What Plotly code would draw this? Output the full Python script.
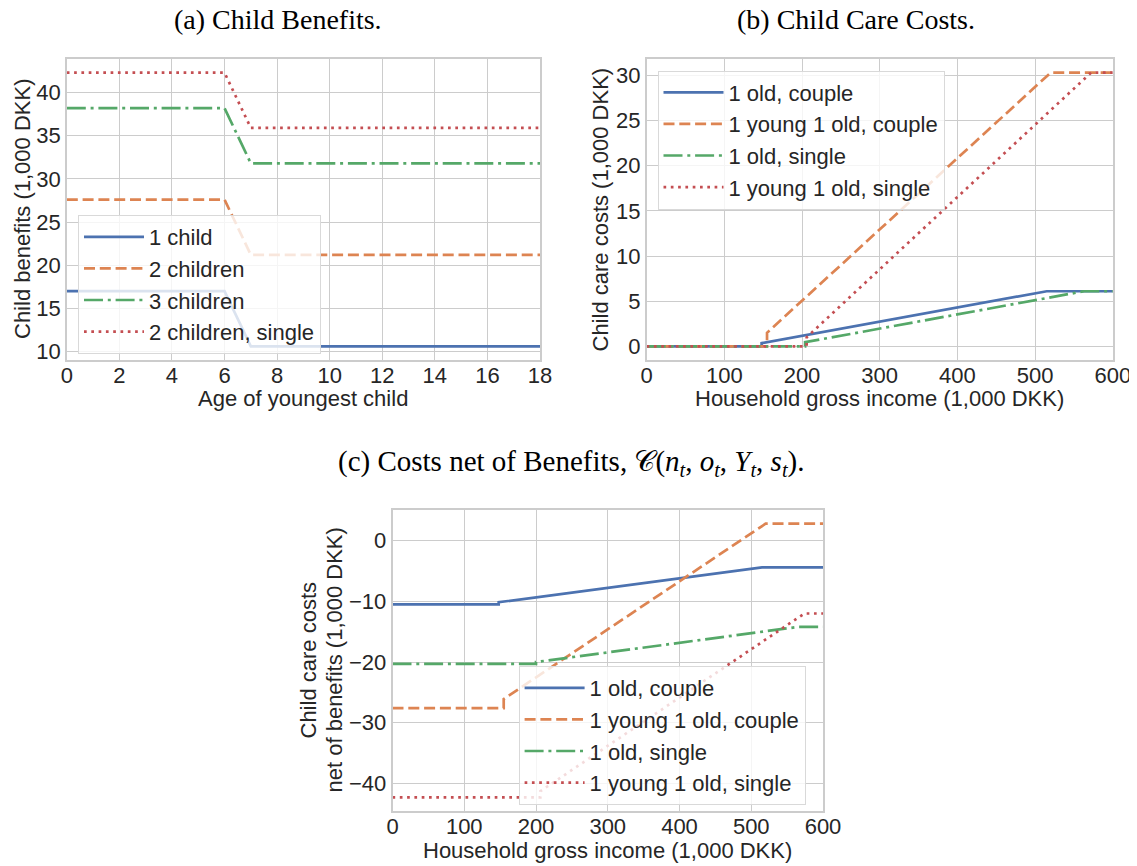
import plotly.graph_objects as go

# page offsets (the page body has an 8px margin)
OFF = 8
W, H = 1137 - OFF, 866 - OFF

# ---------------- Data ----------------
# (a) Child benefits by age of youngest child
ages = list(range(0, 19))
ben_1child = [17.0] * 7 + [10.6] * 12
ben_2children = [27.6] * 7 + [21.2] * 12
ben_3children = [38.2] * 7 + [31.8] * 12
ben_2children_single = [42.3] * 7 + [35.9] * 12

# (b) Child care costs vs household gross income (breakpoints)
cc_1old_couple_x = [0, 148, 148, 515, 600]
cc_1old_couple_y = [0.0, 0.0, 0.35, 6.1, 6.1]
cc_1y1o_couple_x = [0, 155, 155, 520, 600]
cc_1y1o_couple_y = [0.0, 0.0, 1.5, 30.3, 30.3]
cc_1old_single_x = [0, 204, 204, 563, 600]
cc_1old_single_y = [0.0, 0.0, 0.45, 6.1, 6.1]
cc_1y1o_single_x = [0, 206, 206, 572, 600]
cc_1y1o_single_y = [0.0, 0.0, 1.0, 30.3, 30.3]

# (c) Costs net of benefits
net_1old_couple_x = [0, 148, 148, 515, 600]
net_1old_couple_y = [-10.5, -10.5, -10.15, -4.4, -4.4]
net_1y1o_couple_x = [0, 155, 155, 520, 600]
net_1y1o_couple_y = [-27.6, -27.6, -26.1, 2.8, 2.8]
net_1old_single_x = [0, 200, 200, 566, 600]
net_1old_single_y = [-20.3, -20.3, -20.0, -14.2, -14.2]
net_1y1o_single_x = [0, 206, 206, 574, 600]
net_1y1o_single_y = [-42.3, -42.3, -41.3, -12.0, -12.0]

names_a = ["1 child", "2 children", "3 children", "2 children, single"]
names_bc = ["1 old, couple", "1 young 1 old, couple", "1 old, single", "1 young 1 old, single"]
xticks_a = list(range(0, 19, 2))
xticks_bc = list(range(0, 601, 100))
yticks_a = [10, 15, 20, 25, 30, 35, 40]
yticks_b = [0, 5, 10, 15, 20, 25, 30]
yticks_c = [-40, -30, -20, -10, 0]

# ---------------- Style ----------------
colors = ["#4C72B0", "#DD8452", "#55A868", "#C44E52"]
LW = 2.7
dashes = ["solid", "11px,4.8px", "19px,4.8px,3px,4.8px", "2.7px,4.6px"]
SANS = "Liberation Sans, Arial, sans-serif"
SERIF = "Liberation Serif, Times New Roman, serif"
TXT = "#262626"
GRID = "#cccccc"
FS = 22

fig = go.Figure()

def add(xs, ys, name, i, xa, ya, leg):
    fig.add_trace(go.Scatter(
        x=xs, y=ys, mode="lines", name=name,
        line=dict(color=colors[i], width=LW, dash=dashes[i]),
        xaxis=xa, yaxis=ya, legend=leg, legendgroup=f"{leg}_{i}",
    ))

series_a = [ben_1child, ben_2children, ben_3children, ben_2children_single]
for i, ys in enumerate(series_a):
    add(ages, ys, names_a[i], i, "x", "y", "legend")

series_b = [(cc_1old_couple_x, cc_1old_couple_y), (cc_1y1o_couple_x, cc_1y1o_couple_y),
            (cc_1old_single_x, cc_1old_single_y), (cc_1y1o_single_x, cc_1y1o_single_y)]
for i, (xs, ys) in enumerate(series_b):
    add(xs, ys, names_bc[i], i, "x2", "y2", "legend2")

series_c = [(net_1old_couple_x, net_1old_couple_y), (net_1y1o_couple_x, net_1y1o_couple_y),
            (net_1old_single_x, net_1old_single_y), (net_1y1o_single_x, net_1y1o_single_y)]
for i, (xs, ys) in enumerate(series_c):
    add(xs, ys, names_bc[i], i, "x3", "y3", "legend3")

def px_x(p):
    return (p - OFF) / W

def px_y(p):
    return 1 - (p - OFF) / H

def axis(domain, rng, ticks, is_x):
    d = dict(
        domain=domain, range=rng, tickvals=ticks, showgrid=True, gridcolor=GRID, gridwidth=1.3,
        showline=True, mirror=True, linecolor=GRID, linewidth=1.5, zeroline=False,
        ticks="", tickfont=dict(family=SANS, size=FS, color=TXT), automargin=False,
    )
    if is_x:
        d["ticklabelstandoff"] = -5
    return d

# plot areas in pixels (left, right, top, bottom)
A = (66.8, 540, 59, 360)
B = (646.6, 1112.8, 59, 360)
C = (392.5, 823, 510, 811)

def xd(P):
    return [px_x(P[0]), px_x(P[1])]

def yd(P):
    return [px_y(P[3]), px_y(P[2])]

def rng(lo, hi):
    pad = 0.05 * (hi - lo)
    return [lo - pad, hi + pad]

fig.update_layout(
    width=W, height=H, margin=dict(l=0, r=0, t=0, b=0),
    paper_bgcolor="white", plot_bgcolor="white", showlegend=True,
    xaxis=dict(axis(xd(A), [0, 18], xticks_a, True), anchor="y"),
    yaxis=dict(axis(yd(A), rng(10.6, 42.3), yticks_a, False), anchor="x"),
    xaxis2=dict(axis(xd(B), [0, 600], xticks_bc, True), anchor="y2"),
    yaxis2=dict(axis(yd(B), rng(0, 30.3), yticks_b, False), anchor="x2"),
    xaxis3=dict(axis(xd(C), [0, 600], xticks_bc, True), anchor="y3"),
    yaxis3=dict(axis(yd(C), rng(-42.3, 2.8), yticks_c, False), anchor="x3"),
)

def legend(x, y):
    return dict(
        x=px_x(x), y=px_y(y), xanchor="left", yanchor="top",
        bgcolor="rgba(255,255,255,0.8)", bordercolor="#d9d9d9", borderwidth=1,
        font=dict(family=SANS, size=FS, color=TXT), tracegroupgap=0,
        itemwidth=60,
    )

fig.update_layout(
    legend=legend(78, 215),
    legend2=legend(657.5, 70.5),
    legend3=legend(518.6, 666),
)

ann = []
def text(x, y, s, size=FS, family=SANS, angle=0):
    ann.append(dict(x=px_x(x), y=px_y(y), xref="paper", yref="paper", text=s, showarrow=False,
                    xanchor="center", yanchor="middle", textangle=angle,
                    font=dict(family=family, size=size, color="black" if family == SERIF else TXT)))

# titles
text(277.5, 20, "(a) Child Benefits.", size=28, family=SERIF)
text(856, 20, "(b) Child Care Costs.", size=28, family=SERIF)
text(571, 463, "(c) Costs net of Benefits, 𝒞(<i>n</i><sub><i>t</i></sub>, <i>o</i><sub><i>t</i></sub>, "
               "<i>Y</i><sub><i>t</i></sub>, <i>s</i><sub><i>t</i></sub>).", size=29, family=SERIF)
# axis titles
text((A[0] + A[1]) / 2, 398, "Age of youngest child")
text((B[0] + B[1]) / 2, 398, "Household gross income (1,000 DKK)")
text((C[0] + C[1]) / 2, 850, "Household gross income (1,000 DKK)")
text(22.5, (A[2] + A[3]) / 2, "Child benefits (1,000 DKK)", angle=-90)
text(600, (B[2] + B[3]) / 2, "Child care costs (1,000 DKK)", angle=-90)
text(308, (C[2] + C[3]) / 2, "Child care costs", angle=-90)
text(334, (C[2] + C[3]) / 2, "net of benefits (1,000 DKK)", angle=-90)

fig.update_layout(annotations=ann)
fig.write_html("out.html")
